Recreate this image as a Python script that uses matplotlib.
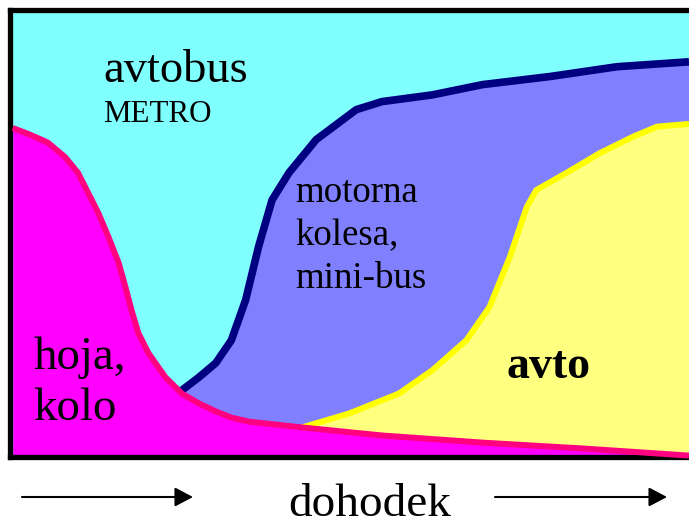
import matplotlib
matplotlib.use("Agg")
import matplotlib.pyplot as plt
from matplotlib.patches import FancyArrowPatch

# ---- data (income share 0-100 on x, cumulative modal share 0-100 on y) ----
hoja_x = [0.4, 3.1, 5.6, 8.1, 10.0, 11.5, 13.0, 14.5, 16.0, 17.0, 17.9, 18.9, 20.4, 22.9,
          25.3, 27.8, 30.3, 32.6, 35.2, 43.0, 54.8, 69.6, 84.3, 100]
hoja_y = [73.5, 71.9, 70.2, 67.0, 63.5, 59.0, 54.5, 49.1, 43.3, 37.9, 32.7, 27.6, 23.1, 17.7,
          14.1, 11.9, 10.1, 8.7, 7.8, 6.5, 4.7, 3.1, 1.8, 0.2]

moto_x = [25.3, 27.8, 30.3, 32.6, 34.7, 36.6, 38.6, 41.1, 45.1, 51.0, 54.8, 62.2, 69.6, 79.5, 89.4, 100]
moto_y = [14.8, 17.7, 20.9, 26.0, 35.0, 46.9, 57.4, 63.5, 70.9, 77.6, 79.4, 80.9, 83.2, 85.0, 87.2, 88.3]

avto_x = [43.0, 49.9, 57.3, 62.2, 67.2, 70.6, 73.6, 76.1, 77.5, 82.0, 86.9, 91.7, 95.3, 100]
avto_y = [6.5, 9.6, 14.1, 19.3, 26.0, 33.4, 44.6, 55.8, 59.6, 63.5, 67.9, 71.5, 73.8, 74.4]

label_avtobus = "avtobus"
label_metro = "METRO"
label_moto = "motorna\nkolesa,\nmini-bus"
label_hoja = "hoja,\nkolo"
label_avto = "avto"
label_x = "dohodek"

# ---- figure ----
W, H = 689, 523
fig = plt.figure(figsize=(W / 100, H / 100), dpi=100)
fig.patch.set_facecolor("white")
plt.rcParams['font.family'] = ['Liberation Serif', 'DejaVu Serif']

def fx(px):
    return px / W

def fy(py):
    return 1 - py / H

ax = fig.add_axes([fx(10), fy(456.5), 1 - fx(10), fy(9.5) - fy(456.5)])
ax.set_xlim(0, 100)
ax.set_ylim(0, 100)
ax.set_facecolor("#80FFFF")
ax.set_xticks([])
ax.set_yticks([])
for s in ["left", "top", "bottom"]:
    ax.spines[s].set_linewidth(3.8)
    ax.spines[s].set_color("black")
ax.spines["right"].set_visible(False)

ax.fill_between(moto_x, 0, moto_y, color="#8080FF", lw=0, zorder=1)
ax.fill_between(avto_x, 0, avto_y, color="#FFFF80", lw=0, zorder=1.5)
ax.fill_between(hoja_x, 0, hoja_y, color="#FF00FF", lw=0, zorder=2)

ax.plot(moto_x, moto_y, color="#000080", lw=5.5, solid_joinstyle="round",
        solid_capstyle="butt", zorder=3, clip_on=False)
ax.plot(avto_x, avto_y, color="#FFFF00", lw=4.3, solid_joinstyle="round",
        solid_capstyle="butt", zorder=3.5, clip_on=False)
ax.plot(hoja_x, hoja_y, color="#FF0080", lw=4.3, solid_joinstyle="round",
        solid_capstyle="butt", zorder=4, clip_on=False)

# ---- labels (multi-line: baseline of last line) ----
fig.text(fx(103), fy(82), label_avtobus, fontsize=33.5, va="baseline", ha="left")
fig.text(fx(103), fy(122), label_metro, fontsize=22.3, va="baseline", ha="left")
fig.text(fx(295), fy(288), label_moto, fontsize=26.6, va="baseline", ha="left",
         linespacing=1.32)
fig.text(fx(33), fy(420), label_hoja, fontsize=33.8, va="baseline", ha="left",
         linespacing=1.25)
fig.text(fx(506), fy(378), label_avto, fontsize=33, fontweight="bold",
         va="baseline", ha="left")
fig.text(fx(288), fy(516), label_x, fontsize=34, va="baseline", ha="left")

for (x0, x1) in [(22, 193), (495, 667)]:
    arr = FancyArrowPatch((fx(x0), fy(497)), (fx(x1), fy(497)),
                          transform=fig.transFigure,
                          arrowstyle="-|>,head_length=11,head_width=5.8",
                          mutation_scale=1, lw=1.5, color="black",
                          shrinkA=0, shrinkB=0)
    fig.patches.append(arr)

fig.savefig("out.png", dpi=100)
